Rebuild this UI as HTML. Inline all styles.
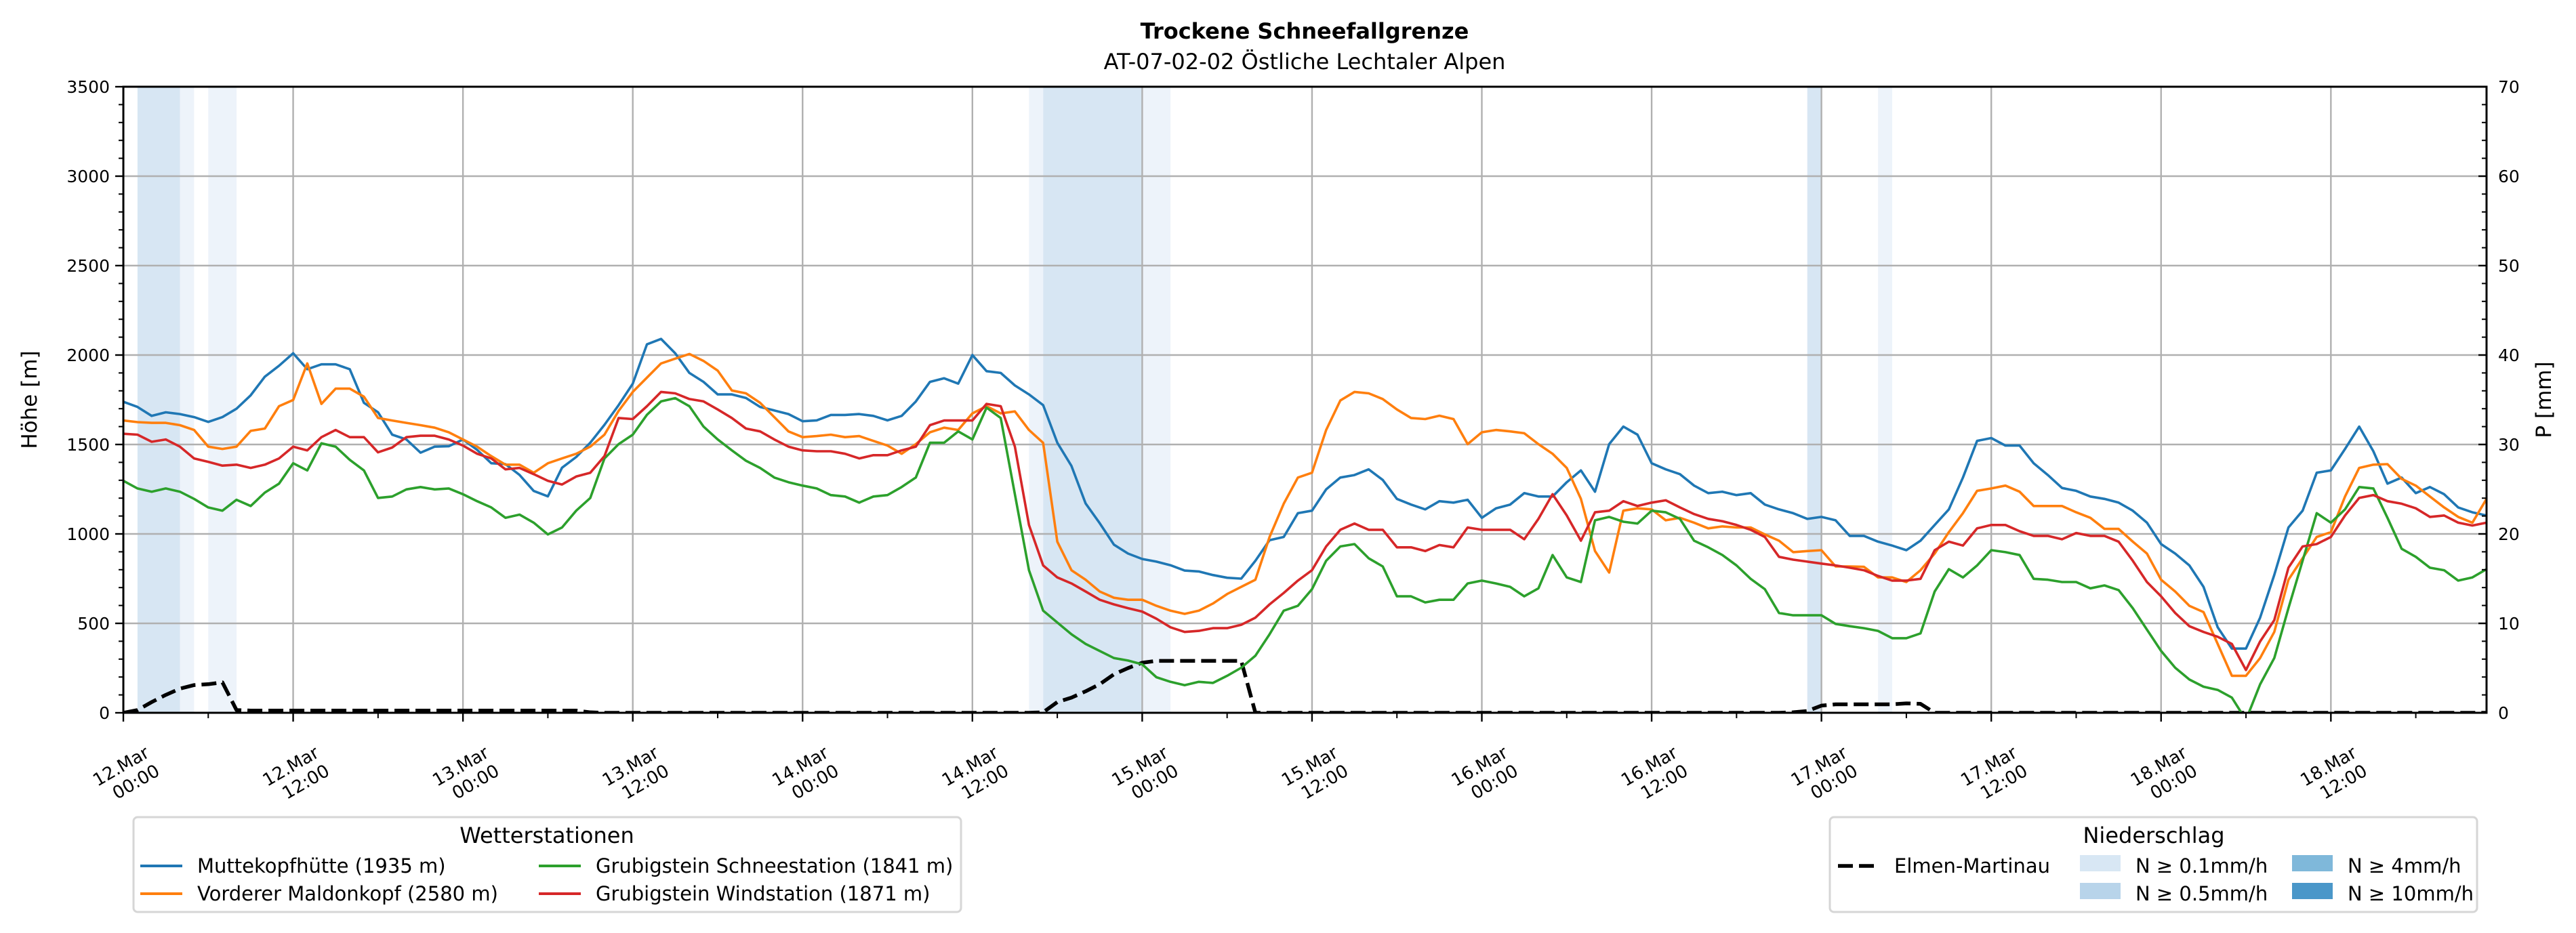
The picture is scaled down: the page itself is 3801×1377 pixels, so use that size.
<!DOCTYPE html>
<html><head><meta charset="utf-8"><style>
html,body{margin:0;padding:0;background:#fff}
svg{display:block;font-family:"DejaVu Sans","Liberation Sans",sans-serif}
</style></head><body>
<svg id="chart" width="3801" height="1377" viewBox="0 0 3801 1377" xmlns="http://www.w3.org/2000/svg">
<rect width="3801" height="1377" fill="#fff"/>
<text x="1925" y="57" text-anchor="middle" font-size="32" font-weight="bold">Trockene Schneefallgrenze</text>
<text x="1925" y="102" text-anchor="middle" font-size="32">AT-07-02-02 Östliche Lechtaler Alpen</text>
<g id="plot"></g>
</svg>
<script>
const hoursLabels = ["12.Mar|00:00","12.Mar|12:00","13.Mar|00:00","13.Mar|12:00","14.Mar|00:00","14.Mar|12:00","15.Mar|00:00","15.Mar|12:00","16.Mar|00:00","16.Mar|12:00","17.Mar|00:00","17.Mar|12:00","18.Mar|00:00","18.Mar|12:00"];
const yTicks = [0,500,1000,1500,2000,2500,3000,3500];
const pTicks = [0,10,20,30,40,50,60,70];
const muttekopf = [1739,1710,1660,1680,1670,1653,1626,1653,1700,1775,1879,1940,2010,1921,1948,1948,1921,1733,1680,1555,1528,1454,1488,1490,1528,1470,1395,1390,1330,1240,1210,1370,1430,1510,1610,1720,1840,2060,2090,2010,1900,1850,1780,1780,1760,1710,1690,1670,1630,1635,1665,1665,1670,1660,1635,1660,1740,1850,1870,1840,2000,1910,1900,1830,1780,1720,1510,1380,1170,1060,940,890,860,845,825,795,790,770,755,750,850,965,983,1116,1130,1249,1315,1329,1361,1302,1196,1164,1137,1183,1175,1191,1090,1143,1164,1228,1209,1209,1289,1355,1236,1502,1600,1555,1395,1361,1334,1270,1228,1236,1217,1228,1164,1137,1116,1084,1095,1076,989,989,957,935,909,962,1050,1137,1315,1520,1536,1494,1494,1395,1329,1257,1241,1209,1196,1175,1130,1063,943,890,824,704,478,359,359,532,771,1036,1130,1342,1355,1475,1600,1462,1281,1315,1228,1262,1222,1148,1121,1103];
const maldonkopf = [1634,1625,1621,1621,1608,1581,1488,1475,1488,1576,1589,1714,1749,1953,1727,1812,1812,1767,1648,1634,1621,1608,1594,1568,1528,1488,1435,1387,1387,1342,1395,1422,1448,1488,1555,1688,1794,1874,1953,1980,2006,1967,1913,1802,1786,1733,1653,1573,1541,1547,1555,1541,1547,1520,1494,1448,1502,1568,1594,1581,1674,1714,1674,1685,1581,1509,957,797,744,678,643,632,632,598,571,553,571,611,664,704,744,983,1169,1315,1342,1581,1746,1794,1786,1754,1696,1648,1642,1661,1642,1502,1568,1581,1573,1563,1502,1448,1369,1196,904,784,1130,1143,1137,1076,1090,1063,1031,1042,1036,1036,997,962,898,904,909,818,818,816,757,757,731,797,890,1010,1116,1241,1254,1270,1236,1156,1156,1156,1121,1090,1028,1028,957,890,744,678,598,563,385,207,207,306,452,744,864,983,1010,1209,1369,1387,1390,1308,1270,1209,1148,1095,1063,1196];
const schneestation = [1297,1254,1236,1254,1236,1196,1148,1130,1191,1156,1231,1281,1395,1355,1507,1488,1414,1355,1201,1209,1249,1262,1249,1254,1222,1183,1148,1090,1108,1063,997,1036,1130,1201,1422,1502,1555,1666,1741,1759,1714,1600,1528,1467,1409,1369,1315,1289,1270,1254,1217,1209,1175,1209,1217,1262,1315,1510,1510,1573,1528,1706,1648,1222,797,571,505,439,385,346,306,292,271,199,173,154,173,167,207,252,319,439,571,598,691,850,930,943,864,818,651,651,617,632,632,723,739,723,704,651,696,882,757,731,1076,1095,1068,1058,1130,1121,1084,962,925,882,824,749,691,558,545,545,545,497,484,473,458,417,417,444,678,803,757,824,909,898,882,749,744,731,731,696,712,686,585,465,346,252,186,146,128,85,-40,159,306,585,850,1116,1063,1137,1262,1254,1090,917,872,811,797,739,757,803];
const windstation = [1560,1555,1515,1528,1488,1422,1403,1382,1387,1369,1387,1422,1488,1467,1541,1581,1541,1541,1456,1483,1541,1549,1549,1528,1494,1448,1422,1361,1369,1334,1297,1276,1321,1342,1435,1648,1642,1714,1794,1786,1754,1741,1696,1648,1589,1573,1528,1488,1467,1462,1462,1448,1422,1440,1440,1467,1488,1608,1634,1634,1634,1727,1714,1488,1050,824,757,723,678,632,606,585,566,526,478,452,458,473,473,492,532,606,670,739,797,930,1023,1058,1023,1023,925,925,904,938,925,1036,1023,1023,1023,970,1084,1222,1103,962,1121,1130,1183,1156,1175,1188,1148,1111,1084,1071,1050,1023,983,872,856,845,834,824,811,797,765,739,739,749,909,957,935,1031,1050,1050,1015,989,989,970,1005,989,989,957,850,731,651,558,484,452,425,385,239,399,518,811,930,943,983,1103,1201,1217,1183,1169,1143,1095,1103,1063,1047,1063];
const precipMm = [0,0.3,1.2,2.0,2.7,3.1,3.2,3.4,0.3,0.25,0.25,0.25,0.25,0.25,0.25,0.25,0.25,0.25,0.25,0.25,0.25,0.25,0.25,0.25,0.25,0.25,0.25,0.25,0.25,0.25,0.25,0.25,0.25,0.05,0,0,0,0,0,0,0,0,0,0,0,0,0,0,0,0,0,0,0,0,0,0,0,0,0,0,0,0,0,0,0,0.05,1.2,1.7,2.4,3.2,4.3,5.0,5.6,5.8,5.8,5.8,5.8,5.8,5.8,5.8,0,0,0,0,0,0,0,0,0,0,0,0,0,0,0,0,0,0,0,0,0,0,0,0,0,0,0,0,0,0,0,0,0,0,0,0,0,0,0.05,0.2,0.8,0.95,0.95,0.95,0.95,0.95,1.05,1.0,0,0,0,0,0,0,0,0,0,0,0,0,0,0,0,0,0,0,0,0,0,0,0,0,0,0,0,0,0,0,0,0,0,0,0,0,0,0,0,0];
const bandStart = [1,4,6,64,65,72,119,124];
const bandEnd = [4,5,8,65,72,74,120,125];
const bandLevel = [1,0,0,0,1,0,1,0];

const NS="http://www.w3.org/2000/svg";
const L=182,R=3669,T=128,B=1052,HMAX=167;
const X=h=>L+(R-L)*h/HMAX;
const Y=v=>B-(B-T)*v/3500;
const YP=p=>B-(B-T)*p/70;
const plot=document.getElementById('plot');
function mk(tag,attrs,parent){const e=document.createElementNS(NS,tag);for(const k in attrs)e.setAttribute(k,attrs[k]);(parent||plot).appendChild(e);return e;}

const defs=mk('defs',{});
const cp=mk('clipPath',{id:'clip'},defs);
mk('rect',{x:L,y:T,width:R-L,height:B-T},cp);

const bandColors=['#edf3fa','#d7e6f3'];
bandStart.forEach((s,i)=>{
  const r=mk('rect',{x:X(s),y:T,width:X(bandEnd[i])-X(s),height:B-T,fill:bandColors[bandLevel[i]]});
  
  
});
hoursLabels.forEach((lab,i)=>{
  const g=mk('line',{x1:X(i*12),x2:X(i*12),y1:T,y2:B,stroke:'#b0b0b0','stroke-width':2.4});
  
  
});
yTicks.forEach(v=>{
  const g=mk('line',{x1:L,x2:R,y1:Y(v),y2:Y(v),stroke:'#b0b0b0','stroke-width':2.4});
  
  
});
function line(data,color,name,yf,extra){
  const d=data.map((v,i)=>(i?'L':'M')+X(i).toFixed(1)+','+yf(v).toFixed(1)).join('');
  const p=mk('path',Object.assign({d:d,fill:'none',stroke:color,'stroke-width':3.6,'stroke-linejoin':'round','clip-path':'url(#clip)'},extra||{}));
  
  
}
line(precipMm,'#000','precip-line-elmen-martinau',YP,{'stroke-width':5.5,'stroke-dasharray':'22,9'});
line(muttekopf,'#1f77b4','line-muttekopfhuette',Y);
line(maldonkopf,'#ff7f0e','line-vorderer-maldonkopf',Y);
line(schneestation,'#2ca02c','line-grubigstein-schneestation',Y);
line(windstation,'#d62728','line-grubigstein-windstation',Y);

const fr=mk('rect',{x:L,y:T,width:R-L,height:B-T,fill:'none',stroke:'#000','stroke-width':3});



for(let v=0;v<=3500;v+=100){
  const major=v%500===0;
  mk('line',{x1:L,x2:L-(major?12:7),y1:Y(v),y2:Y(v),stroke:'#000','stroke-width':major?2.4:2});
}
yTicks.forEach(v=>{
  const t=mk('text',{x:L-20,y:Y(v)+9,'text-anchor':'end','font-size':25});
  t.textContent=v;
  
  
});
for(let p=0;p<=70;p+=2){
  const major=p%10===0;
  mk('line',{x1:R,x2:R-(major?12:7),y1:YP(p),y2:YP(p),stroke:'#000','stroke-width':major?2.4:2});
}
pTicks.forEach(p=>{
  const t=mk('text',{x:R+17,y:YP(p)+9,'text-anchor':'start','font-size':25});
  t.textContent=p;
  
  
});
for(let h=0;h<=HMAX;h+=6){
  const major=h%12===0;
  mk('line',{x1:X(h),x2:X(h),y1:B,y2:B+(major?13:8),stroke:'#000','stroke-width':major?2.4:2});
}
hoursLabels.forEach((lab,i)=>{
  const parts=lab.split('|');
  const g=mk('g',{transform:`translate(${X(i*12)+40},1116) rotate(-30)`});
  
  
  const t1=mk('text',{x:0,y:0,'text-anchor':'end','font-size':26},g);t1.textContent=parts[0];
  const t2=mk('text',{x:0,y:31,'text-anchor':'end','font-size':26},g);t2.textContent=parts[1];
});
const yt=mk('text',{transform:'translate(54,590) rotate(-90)','text-anchor':'middle','font-size':31});
yt.textContent='Höhe [m]';


const pt=mk('text',{transform:'translate(3764,590) rotate(-90)','text-anchor':'middle','font-size':31});
pt.textContent='P [mm]';



const lg1=mk('g',{});


mk('rect',{x:197,y:1206,width:1221,height:140,rx:6,fill:'#fff',stroke:'#d6d6d6','stroke-width':3},lg1);
const lt1=mk('text',{x:807,y:1244,'text-anchor':'middle','font-size':32},lg1);lt1.textContent='Wetterstationen';
const entries=[['Muttekopfhütte (1935 m)','#1f77b4',207,1288],['Vorderer Maldonkopf (2580 m)','#ff7f0e',207,1329],['Grubigstein Schneestation (1841 m)','#2ca02c',795,1288],['Grubigstein Windstation (1871 m)','#d62728',795,1329]];
entries.forEach(e=>{
  const g=mk('g',{},lg1);
  
  
  mk('line',{x1:e[2],x2:e[2]+62,y1:e[3]-10,y2:e[3]-10,stroke:e[1],'stroke-width':4},g);
  const t=mk('text',{x:e[2]+84,y:e[3],'font-size':29},g);t.textContent=e[0];
});
const lg2=mk('g',{});


mk('rect',{x:2700,y:1206,width:955,height:140,rx:6,fill:'#fff',stroke:'#d6d6d6','stroke-width':3},lg2);
const lt2=mk('text',{x:3178,y:1244,'text-anchor':'middle','font-size':32},lg2);lt2.textContent='Niederschlag';
const ge=mk('g',{},lg2);


mk('line',{x1:2712,x2:2768,y1:1278,y2:1278,stroke:'#000','stroke-width':5.5,'stroke-dasharray':'22,9'},ge);
const et=mk('text',{x:2795,y:1288,'font-size':29},ge);et.textContent='Elmen-Martinau';
const patches=[['N ≥ 0.1mm/h','#d8e7f4',3069,1288],['N ≥ 0.5mm/h','#b8d4ea',3069,1329],['N ≥ 4mm/h','#7fb8da',3382,1288],['N ≥ 10mm/h','#4a97c9',3382,1329]];
patches.forEach(p=>{
  const g=mk('g',{},lg2);
  
  
  mk('rect',{x:p[2],y:p[3]-26,width:60,height:24,fill:p[1]},g);
  const t=mk('text',{x:p[2]+82,y:p[3],'font-size':29},g);t.textContent=p[0];
});
</script>
</body></html>
